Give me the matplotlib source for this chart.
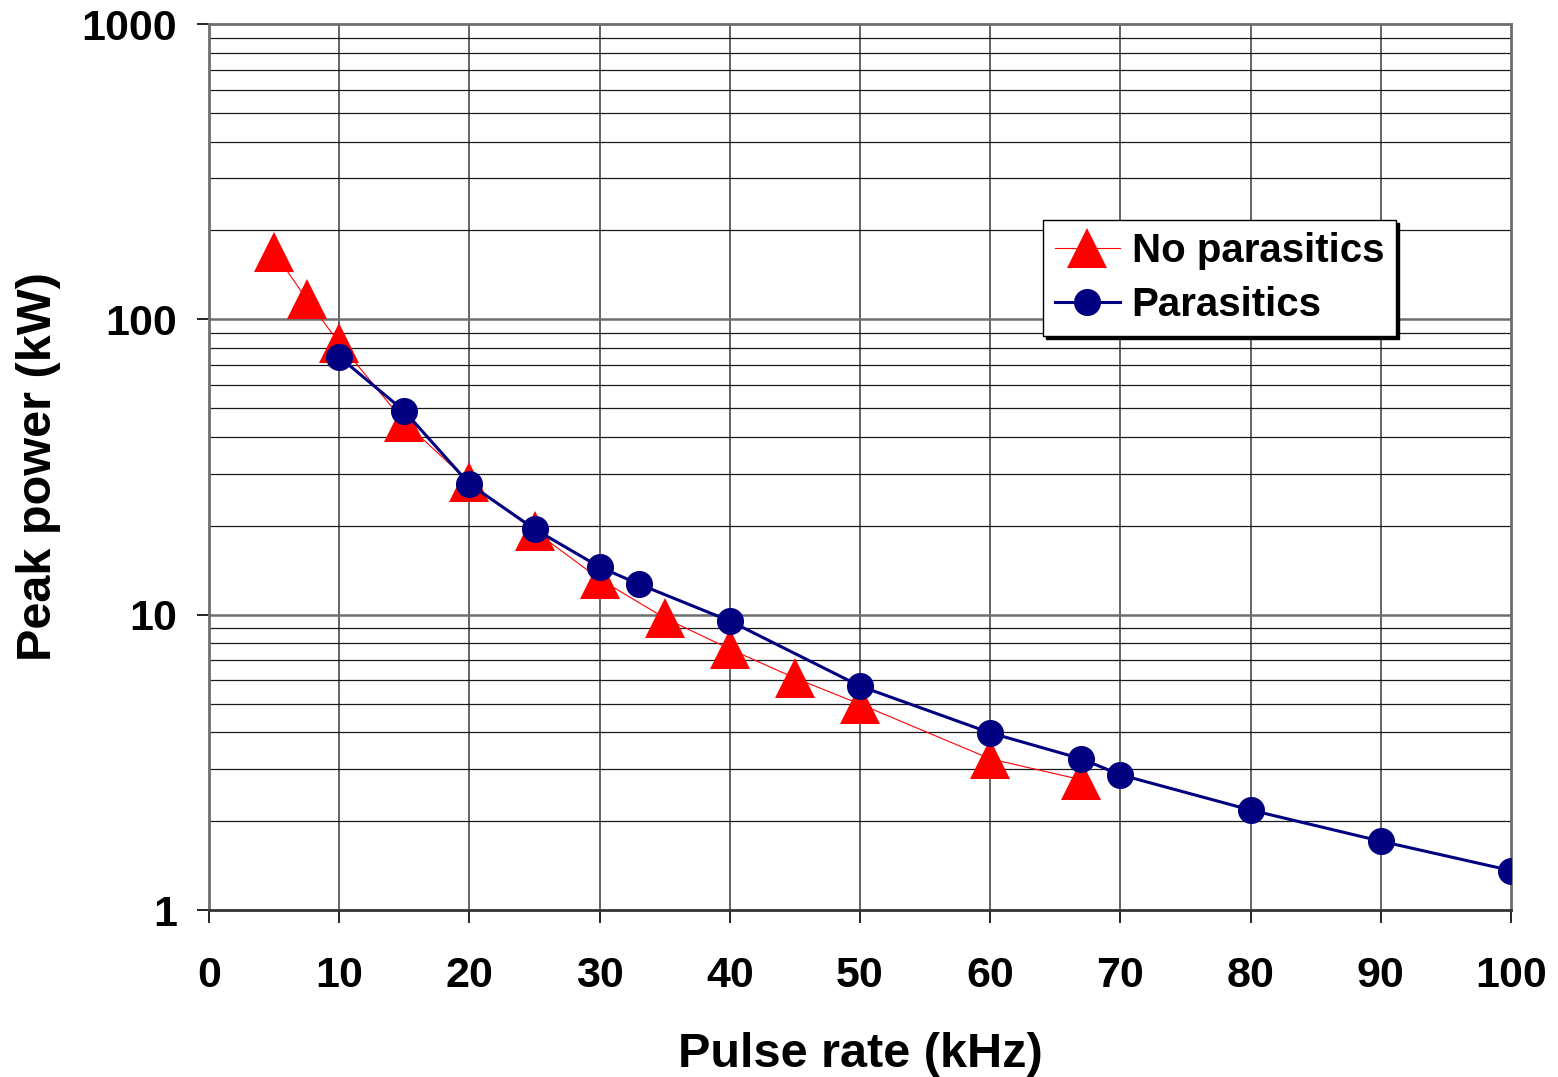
import matplotlib
matplotlib.use('Agg')
from matplotlib import pyplot as plt
from matplotlib.ticker import FixedLocator, NullFormatter

plt.rcParams['font.family'] = ['Liberation Sans', 'DejaVu Sans']
plt.rcParams['font.weight'] = 'bold'

# No parasitics
x_np = [5, 7.5, 10, 15, 20, 25, 30, 35, 40, 45, 50, 60, 67]
y_np = [169, 117, 83.2, 44.9, 28.1, 19.2, 13.2, 9.74, 7.65, 6.10, 4.98, 3.25, 2.76]

# Parasitics
x_p = [10, 15, 20, 25, 30, 33, 40, 50, 60, 67, 70, 80, 90, 100]
y_p = [74.6, 48.9, 27.7, 19.5, 14.5, 12.7, 9.52, 5.73, 3.98, 3.25, 2.87, 2.18, 1.71, 1.36]

x_ticks = list(range(0, 101, 10))
y_ticks = [1, 10, 100, 1000]
y_minor = [m * d for d in (1, 10, 100) for m in range(2, 10)]

fig = plt.figure(figsize=(15.58, 10.77), dpi=100)
ax = fig.add_axes([209 / 1558, 1 - 910 / 1077, 1302 / 1558, 886 / 1077])

ax.set_yscale('log')
ax.set_xlim(0, 100)
ax.set_ylim(1, 1000)

# grid
for v in x_ticks[1:-1]:
    ax.axvline(v, color='#3a3a3a', lw=1.1, zorder=1)
for v in y_minor:
    ax.axhline(v, color='#1a1a1a', lw=0.9, zorder=1)
for v in y_ticks[1:-1]:
    ax.axhline(v, color='#6e6e6e', lw=1.8, zorder=1)

ax.plot(x_np, y_np, color='red', lw=0.8, marker='^', markersize=29,
        markeredgewidth=0, label='No parasitics', zorder=3)
ax.plot(x_p, y_p, color='#000080', lw=2.2, marker='o', markersize=19.5,
        markeredgewidth=0, label='Parasitics', zorder=4)

ax.xaxis.set_major_locator(FixedLocator(x_ticks))
ax.yaxis.set_major_locator(FixedLocator(y_ticks))
ax.yaxis.set_minor_locator(FixedLocator(y_minor))
ax.yaxis.set_minor_formatter(NullFormatter())
ax.set_yticklabels(['1', '10', '100', '1000'])
ax.tick_params(axis='y', which='minor', length=0)
ax.tick_params(axis='y', which='major', length=9, width=1.2, pad=14,
               labelsize=31)
ax.tick_params(axis='x', which='major', length=9, width=1.2, pad=24,
               labelsize=31)
for lab in ax.get_xticklabels() + ax.get_yticklabels():
    lab.set_fontweight('bold')

for s in ax.spines.values():
    s.set_color('#6e6e6e')
    s.set_linewidth(2)
ax.spines['bottom'].set_color('#333333')

ax.set_xlabel('Pulse rate (kHz)', fontsize=35, fontweight='bold', labelpad=26)
ax.set_ylabel('Peak power (kW)', fontsize=35, fontweight='bold', labelpad=15)

leg = ax.legend(loc='upper left', bbox_to_anchor=(0.6406, 0.7788),
                borderaxespad=0, fontsize=29, frameon=True, fancybox=False,
                shadow={'color': 'black', 'alpha': 1}, handlelength=1.6,
                borderpad=0.3, labelspacing=0.4, handletextpad=0.3)
leg.get_frame().set_edgecolor('black')
leg.get_frame().set_linewidth(1)
for t in leg.get_texts():
    t.set_fontweight('bold')

fig.savefig('out.png', dpi=100)
